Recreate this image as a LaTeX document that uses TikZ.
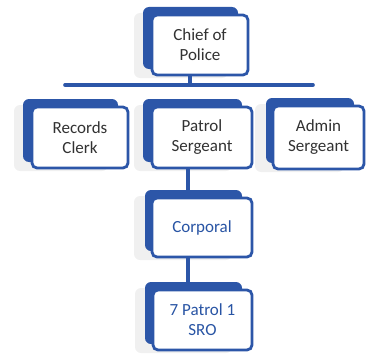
\documentclass[tikz,border=0pt]{standalone}
\usepackage{fontspec}
\setmainfont{Carlito}
\definecolor{bblue}{RGB}{44,86,168}
\definecolor{dtext}{RGB}{50,50,50}
\definecolor{btext}{RGB}{40,84,164}
\tikzset{
  orgbox/.style={draw=bblue, line width=2.8pt, fill=white, rounded corners=5pt,
    align=center, inner sep=0pt, font=\fontsize{17}{20}\selectfont},
  backbox/.style={fill=bblue, rounded corners=6pt},
  shadowbox/.style={fill=gray!12, rounded corners=6pt},
  link/.style={draw=bblue, line width=3.6pt}
}
\newcommand{\orgitem}[8]{%
  % #1 name, #2 x0, #3 y0, #4 x1, #5 y1 (inner box), #6 text, #7 text colour, #8 back offset
  \fill[shadowbox] ({#2-18},{#3-2}) rectangle ({#4-20},{#5+3});
  \fill[backbox] ({#2-#8},{#3-8}) rectangle ({#4-10},{#5-6});
  \node[orgbox, text=#7, minimum width={(#4-#2)*1pt}, minimum height={(#5-#3)*1pt}]
    (#1) at ({(#2+#4)/2},{(#3+#5)/2}) {#6};
}
\begin{document}
\begin{tikzpicture}[x=1pt,y=-1pt]
\useasboundingbox (0,0) rectangle (366,353);
% connectors
\coordinate (busL) at (65,85);
\coordinate (busR) at (313,85);
\coordinate (busM) at (190,85);
\draw[link, line cap=round] (busL) -- (busR);
\orgitem{chief}{152}{15}{248}{75}{Chief of\\Police}{dtext}{9}
\draw[link] (chief.south -| busM) -- (busM);
\orgitem{records}{32}{107}{128}{168}{Records\\Clerk}{dtext}{9}
\orgitem{patrol}{152}{107}{252}{168}{Patrol\\Sergeant}{dtext}{9}
\orgitem{admin}{273}{106}{364}{169}{Admin\\Sergeant}{dtext}{7}
\coordinate (vx) at (188,0);
\draw[link] (patrol.south -| vx) -- ++(0,24) coordinate (cortop);
\orgitem{corporal}{152}{198}{252}{257}{Corporal}{btext}{7}
\draw[link] (corporal.south -| vx) -- ++(0,26) coordinate (srotop);
\orgitem{sro}{153}{290}{252}{350}{7 Patrol 1\\SRO}{btext}{8}
\end{tikzpicture}
\end{document}
